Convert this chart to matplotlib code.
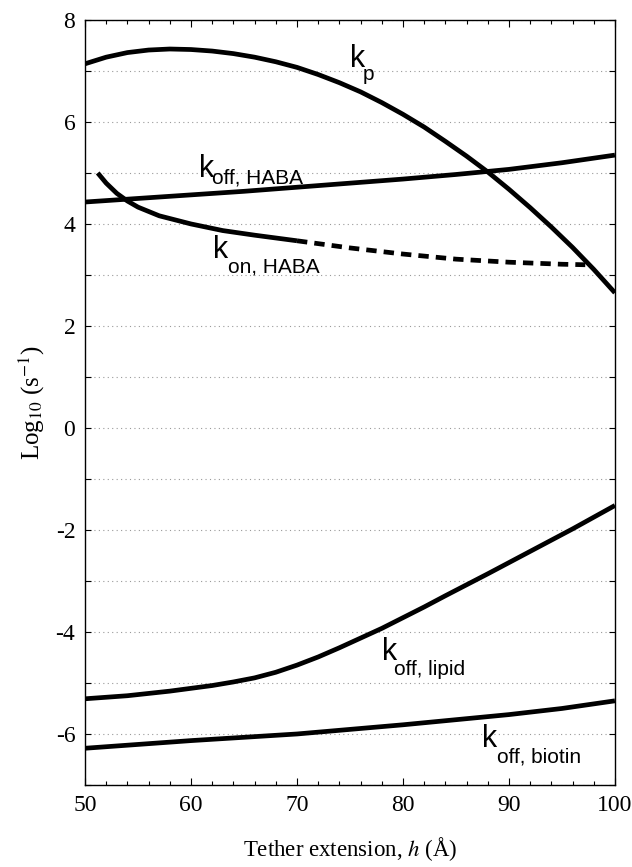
import matplotlib
matplotlib.use("Agg")
import matplotlib.pyplot as plt
from matplotlib.ticker import MultipleLocator, FixedLocator

plt.rcParams['font.family'] = ['Liberation Serif', 'DejaVu Serif']
plt.rcParams['mathtext.fontset'] = 'stix'
plt.rcParams['axes.unicode_minus'] = False

# ---- data ----
h_kp = [50, 52, 54, 56, 58, 60, 62, 64, 66, 68, 70, 72, 74, 76, 78, 80,
        82, 84, 86, 88, 90, 92, 94, 96, 98, 100]
kp = [7.14, 7.27, 7.36, 7.41, 7.43, 7.42, 7.39, 7.34, 7.27, 7.18, 7.07, 6.93,
      6.77, 6.59, 6.38, 6.15, 5.90, 5.62, 5.33, 5.02, 4.68, 4.32, 3.94, 3.54,
      3.11, 2.65]

h_koff_haba = [50, 55, 60, 65, 70, 75, 80, 85, 90, 95, 100]
koff_haba = [4.43, 4.50, 4.57, 4.64, 4.72, 4.80, 4.88, 4.97, 5.07, 5.20, 5.35]

h_kon_solid = [51.2, 52, 53, 54, 55, 57, 60, 63, 66, 70]
kon_solid = [5.00, 4.80, 4.60, 4.45, 4.33, 4.16, 4.00, 3.87, 3.78, 3.67]
h_kon_dash = [70, 75, 80, 85, 90, 95, 97.2]
kon_dash = [3.67, 3.53, 3.41, 3.31, 3.25, 3.21, 3.20]

h_lipid = [50, 54, 58, 62, 64, 66, 68, 70, 72, 74, 76, 78, 80, 82, 84, 88,
           92, 96, 100]
koff_lipid = [-5.31, -5.25, -5.16, -5.05, -4.98, -4.90, -4.79, -4.65, -4.49,
              -4.31, -4.12, -3.93, -3.72, -3.51, -3.29, -2.86, -2.42, -1.98,
              -1.52]

h_biotin = [50, 60, 70, 80, 90, 95, 100]
koff_biotin = [-6.28, -6.13, -6.00, -5.82, -5.62, -5.50, -5.35]

xticks = [50, 60, 70, 80, 90, 100]
yticks = [-6, -4, -2, 0, 2, 4, 6, 8]

# ---- figure ----
fig = plt.figure(figsize=(6.32, 8.67), dpi=100)
ax = fig.add_axes([0.1345, 0.0946, 0.8385, 0.8824])

lw = 3.4
kw = dict(color='black', lw=lw, solid_capstyle='butt', solid_joinstyle='round')
ax.plot(h_kp, kp, **kw)
ax.plot(h_koff_haba, koff_haba, **kw)
ax.plot(h_kon_solid, kon_solid, **kw)
ax.plot(h_kon_dash, kon_dash, color='black', lw=lw, linestyle=(0, (2.2, 1.5)),
        dash_capstyle='butt')
ax.plot(h_lipid, koff_lipid, **kw)
ax.plot(h_biotin, koff_biotin, **kw)

ax.set_xlim(50, 100)
ax.set_ylim(-7, 8)
ax.xaxis.set_major_locator(FixedLocator(xticks))
ax.xaxis.set_minor_locator(MultipleLocator(2))
ax.yaxis.set_major_locator(FixedLocator(yticks))
ax.yaxis.set_minor_locator(MultipleLocator(1))

ax.tick_params(which='both', direction='in', top=True, right=True,
               labelsize=17, width=0.8)
ax.tick_params(axis='x', which='major', length=5, pad=7)
ax.tick_params(axis='x', which='minor', length=3)
ax.tick_params(axis='y', which='both', length=4, pad=7)

ax.grid(True, axis='y', which='both', color='#9a9a9a', lw=0.8,
        linestyle=(0, (1, 3)))
for s in ax.spines.values():
    s.set_linewidth(1.0)

ax.set_xlabel('Tether extension, $\\mathit{h}$ (Å)', fontsize=16.5, labelpad=14)
ax.set_ylabel('Log$_{10}$ (s$^{-1}$)', fontsize=18, labelpad=6)

# ---- curve labels ----
sans = ['Liberation Sans', 'DejaVu Sans']
big, small = 22, 15
def label(hk, vk, hs, vs, sub):
    ax.text(hk, vk, 'k', fontsize=big, family=sans, ha='left', va='baseline')
    ax.text(hs, vs, sub, fontsize=small, family=sans, ha='left', va='baseline')

label(75.0, 7.08, 76.2, 6.82, 'p')
label(60.8, 4.92, 62.0, 4.80, 'off, HABA')
label(62.1, 3.33, 63.5, 3.04, 'on, HABA')
label(78.0, -4.55, 79.2, -4.84, 'off, lipid')
label(87.5, -6.25, 88.9, -6.55, 'off, biotin')

fig.savefig('out.png', dpi=100)
